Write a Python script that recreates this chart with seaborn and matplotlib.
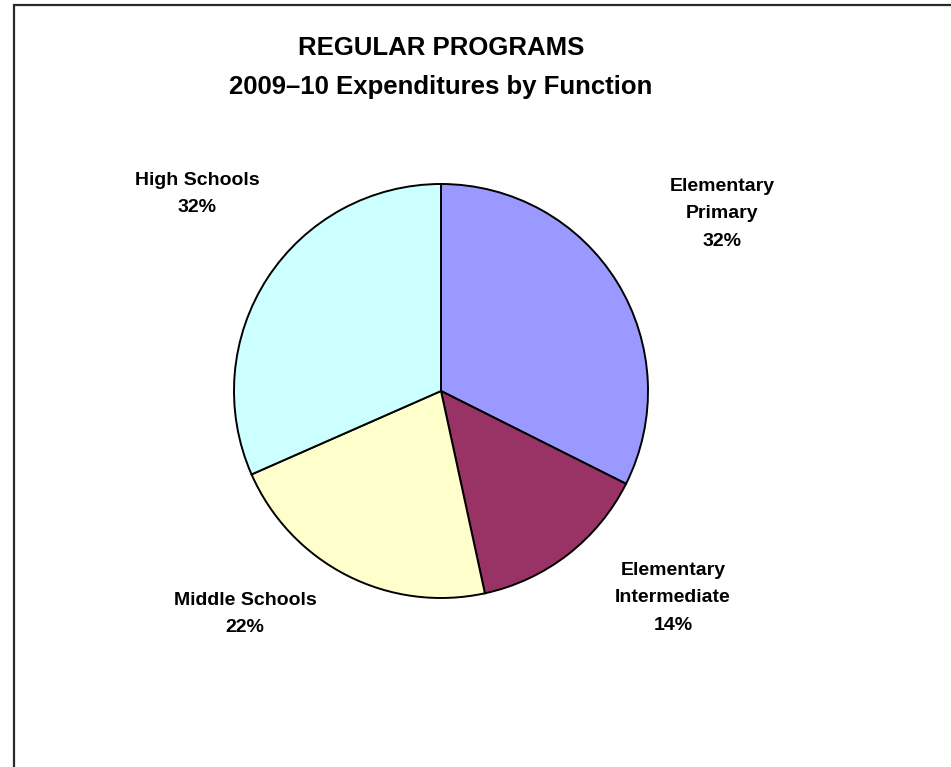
import matplotlib
matplotlib.use("Agg")
import matplotlib.pyplot as plt
from matplotlib.patches import Rectangle
import seaborn as sns

# Regular programs spending share by function, 2009-10
categories = ["Elementary\nPrimary", "Elementary\nIntermediate", "Middle Schools", "High Schools"]
shares = [32.4, 14.2, 21.8, 31.6]
colors = ["#9999FF", "#993366", "#FFFFCC", "#CCFFFF"]
title_lines = ["REGULAR PROGRAMS", "2009\u201310 Expenditures by Function"]

# label anchor points in figure pixels (x from left, y from top)
label_pos = [(722, 214), (673, 598), (245, 614), (197, 194)]

sns.set_theme(style="white")
plt.rcParams["font.family"] = ["Liberation Sans", "DejaVu Sans"]

W, H = 951, 767
fig = plt.figure(figsize=(W / 100, H / 100), dpi=100)
fig.patch.set_facecolor("white")
ax = fig.add_axes([0, 0, 1, 1])

palette = sns.color_palette(colors)
cx, cy, r = 441, H - 391, 207
ax.pie(shares, colors=palette, startangle=90, counterclock=False,
       center=(cx, cy), radius=r,
       wedgeprops=dict(edgecolor="black", linewidth=1.4))
ax.set_xlim(0, W)
ax.set_ylim(0, H)
ax.set_aspect("auto")
ax.axis("off")

for name, val, (px, py) in zip(categories, shares, label_pos):
    ax.text(px, H - py, f"{name}\n{val:.0f}%", ha="center", va="center",
            fontsize=14, fontweight="bold", color="black", linespacing=1.8)

ax.text(cx, H - 48, title_lines[0], ha="center", va="center",
        fontsize=18.5, fontweight="bold", color="black")
ax.text(cx, H - 87, title_lines[1], ha="center", va="center",
        fontsize=18.5, fontweight="bold", color="black")

# chart frame, running off the right and bottom edges
fig.patches.append(Rectangle((14 / W, -0.05), 1.0, (H - 5) / H + 0.05,
                             transform=fig.transFigure, fill=False,
                             edgecolor="#2a2a2a", linewidth=1.6))

fig.savefig("out.png", dpi=100, facecolor="white")
